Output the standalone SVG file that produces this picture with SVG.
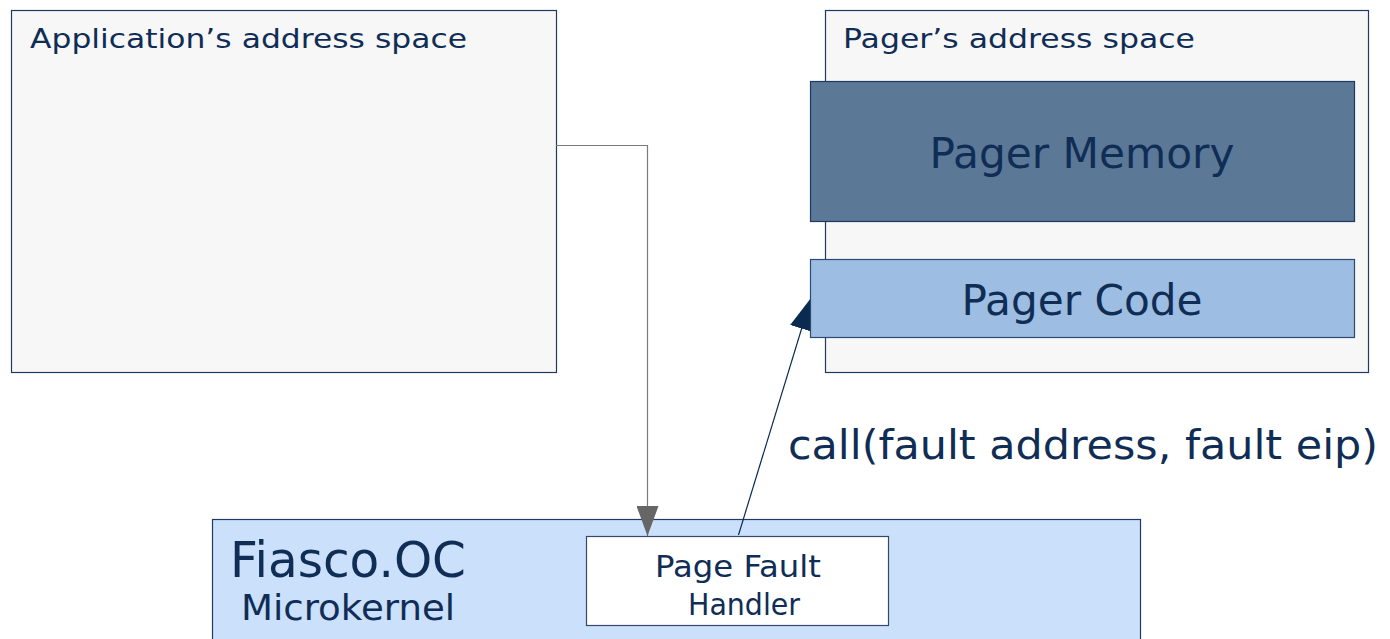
<svg xmlns="http://www.w3.org/2000/svg" width="1390" height="639" viewBox="0 0 1390 639">
  <style>
    .txt { font-family: "DejaVu Sans", "Liberation Sans", sans-serif; fill: #102d55; }
    .space { fill: #f7f7f7; stroke: #1f3a60; stroke-width: 1.2; }
    .kernel { fill: #cbe0fb; stroke: #1f3a60; stroke-width: 1.2; }
    .handler { fill: #ffffff; stroke: #34496a; stroke-width: 1.2; }
    .memory { fill: #5b7897; stroke: #1f3a60; stroke-width: 1.2; }
    .code { fill: #9dbde2; stroke: #2c4a72; stroke-width: 1.2; }
    .fault { fill: none; stroke: #7a7a7a; stroke-width: 1.2; }
    .call { fill: none; stroke: #0b2a50; stroke-width: 1.2; }
  </style>
  <defs>
    <marker id="arrowGray" viewBox="0 0 30 22" refX="30" refY="11" markerWidth="30" markerHeight="22" markerUnits="userSpaceOnUse" orient="auto">
      <path d="M0,0 L30,11 L0,22 Z" fill="#666666"/>
    </marker>
    <marker id="arrowNavy" viewBox="0 0 32 24" refX="32" refY="12" markerWidth="32" markerHeight="24" markerUnits="userSpaceOnUse" orient="auto">
      <path d="M0,0 L32,12 L0,24 Z" fill="#0b2a50"/>
    </marker>
  </defs>

  <rect width="1390" height="639" fill="#ffffff"/>

  <g id="app-space">
    <rect class="space" x="11.5" y="10.5" width="545" height="362"/>
    <text class="txt" x="30" y="48" font-size="27" textLength="437" lengthAdjust="spacingAndGlyphs">Application’s address space</text>
  </g>

  <g id="pager-space">
    <rect class="space" x="825.5" y="10.5" width="543" height="362"/>
    <text class="txt" x="843" y="48" font-size="27" textLength="352" lengthAdjust="spacingAndGlyphs">Pager’s address space</text>
  </g>

  <g id="kernel">
    <rect class="kernel" x="212.5" y="519.5" width="928" height="130"/>
    <text class="txt" x="230" y="577" font-size="50" textLength="236" lengthAdjust="spacingAndGlyphs">Fiasco.OC</text>
    <text class="txt" x="241" y="620" font-size="35" textLength="214" lengthAdjust="spacingAndGlyphs">Microkernel</text>
  </g>

  <g id="page-fault-handler">
    <rect class="handler" x="586.5" y="536.5" width="302" height="89"/>
    <text class="txt" x="738" y="577" font-size="31" text-anchor="middle" textLength="166" lengthAdjust="spacingAndGlyphs">Page Fault</text>
    <text class="txt" x="744" y="615" font-size="31" text-anchor="middle" textLength="112" lengthAdjust="spacingAndGlyphs">Handler</text>
  </g>

  <g id="connectors">
    <path class="fault" d="M556,145.5 H647.5 V536" marker-end="url(#arrowGray)"/>
    <path class="call" d="M738.5,535 L811,298" marker-end="url(#arrowNavy)"/>
    <text class="txt" x="788" y="459" font-size="41" textLength="590" lengthAdjust="spacingAndGlyphs">call(fault address, fault eip)</text>
  </g>

  <g id="pager-memory">
    <rect class="memory" x="810.5" y="81.5" width="544" height="140"/>
    <text class="txt" x="1082" y="168" font-size="42" text-anchor="middle" textLength="305" lengthAdjust="spacingAndGlyphs">Pager Memory</text>
  </g>

  <g id="pager-code">
    <rect class="code" x="810.5" y="259.5" width="544" height="78"/>
    <text class="txt" x="1082" y="315" font-size="42" text-anchor="middle" textLength="241" lengthAdjust="spacingAndGlyphs">Pager Code</text>
  </g>
</svg>
